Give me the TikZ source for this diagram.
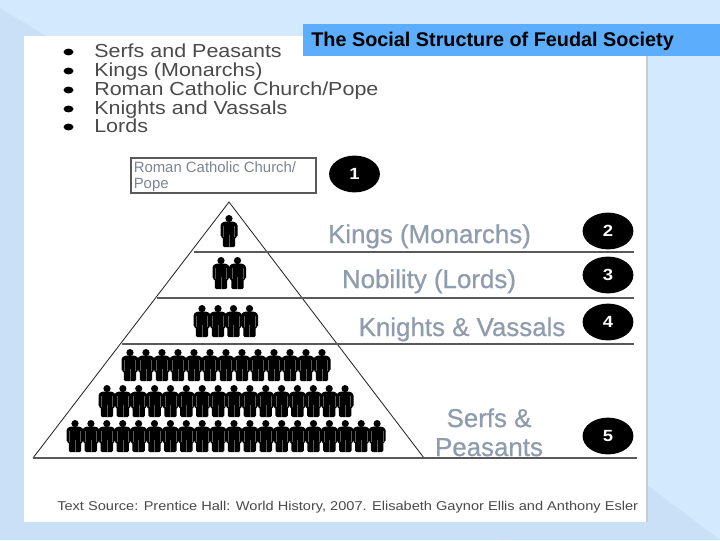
\documentclass[tikz,border=0pt]{standalone}
\usepackage{fontspec}
\usepackage{xcolor}
\setmainfont{Liberation Sans}
\newfontfamily\wideface[FakeStretch=1.14]{Liberation Sans}
\newfontfamily\tierface[FakeBold=0.7]{Liberation Sans}
\usetikzlibrary{positioning,shapes.geometric}
\definecolor{slideBg}{HTML}{D3E9FD}
\definecolor{slideDark}{HTML}{C9E0F6}
\definecolor{titleBg}{HTML}{5CAEFC}
\definecolor{tierGrey}{HTML}{8F9CAD}
\definecolor{listGrey}{HTML}{4A4A4A}

\begin{document}
\begin{tikzpicture}[
          x=0.025cm, y=-0.025cm,
          listLbl/.style={font=\wideface\fontsize{13.4}{15}\selectfont, text=listGrey, anchor=base west, inner sep=0pt},
          tierLbl/.style={font=\tierface\fontsize{18.4}{20.6}\selectfont, text=tierGrey, align=center, inner sep=0pt, anchor=base},
          numDot/.style={draw=none, fill=black, ellipse, minimum width=1.27cm, minimum height=0.92cm, inner sep=0pt, text=white, font=\wideface\fontsize{11.5}{14}\selectfont\bfseries},
          tierLine/.style={draw=black!65, line width=0.8pt},
          edgeLine/.style={draw=black!85, line width=0.6pt},
          pics/person/.style={code={
              \fill[black] (0,3.6) circle (3.6);
              \fill[black, rounded corners=1pt] (-8.5,22) -- (-8.5,9) -- (-5,6.5) -- (5,6.5) -- (8.5,9) -- (8.5,22) -- (6.2,22) -- (6.2,32) -- (-6.2,32) -- (-6.2,22) -- cycle;
              \draw[black!65, line width=0.25pt] (-5.6,11) -- (-5.6,22) (5.6,11) -- (5.6,22) (0,20) -- (0,32);
          }}
      ]
        \useasboundingbox (0,0) rectangle (720,540);
        % background and slide
        \fill[slideBg] (0,0) rectangle (720,540);
        \fill[slideDark] (0,8) -- (46,36) -- (24,36) -- (24,522) -- (647,522) -- (720,540) -- (0,540) -- cycle;
        \fill[slideDark] (647,485) -- (720,540) -- (500,540) -- (530,522) -- cycle;
        \fill[white] (24,36) rectangle (647,522);
        \draw[black!20, line width=0.8pt] (647,56) -- (647,522);
        \node[fill=titleBg, minimum width=10.425cm, minimum height=0.8cm, inner sep=0pt] (titleBar) at (511.5,40) {};
        \node[font=\fontsize{14.1}{17}\selectfont\bfseries, inner sep=0pt, anchor=base west] (titleTxt) at (311,46) {The Social Structure of Feudal Society};

        % list at the top
        \foreach \y/\txt/\nm in {57/Serfs and Peasants/a, 76/Kings (Monarchs)/b, 95/Roman Catholic Church\slash Pope/c, 114/Knights and Vassals/d, 132/Lords/e} {
          \node[fill=black, ellipse, minimum width=0.25cm, minimum height=0.17cm, inner sep=0pt] (dot\nm) at (68.5,\y-5) {};
          \node[listLbl] (item\nm) at (94,\y) {\txt};
        }

        % pyramid
        \coordinate (apex) at (229,202);
        \coordinate (baseL) at (33,458);
        \coordinate (baseR) at (424,458);
        \draw[edgeLine] (baseL) -- (apex) -- (baseR);
        \foreach \y/\xa/\xb/\nm in {252/194/634/two, 298/157/634/three, 344/122/634/four, 458/33/637/five} {
          \coordinate (left\nm) at (\xa,\y);
          \coordinate (right\nm) at (\xb,\y);
          \draw[tierLine] (left\nm) -- (right\nm);
        }

        % people, row by row
        \pic at (229,215) {person};
        \foreach \x in {221,237.5} \pic at (\x,257) {person};
        \foreach \x in {202,218,233.5,249.5} \pic at (\x,305) {person};
        \foreach \i in {0,...,12} \pic at (130+\i*16,349) {person};
        \foreach \i in {0,...,15} \pic at (107+\i*15.87,385) {person};
        \foreach \i in {0,...,19} \pic at (75+\i*15.9,420) {person};

        % labels
        \node[draw=black!65, line width=1.2pt, minimum width=4.625cm, minimum height=0.875cm, inner sep=0pt] (popeBox) at (223.5,175.5) {};
        \node[font=\fontsize{10.6}{12}\selectfont, text=tierGrey!85!black, align=left, inner sep=0pt, anchor=north west] (popeTxt) at (133.5,161) {Roman Catholic Church/\\Pope};
        \node[tierLbl] (kings) at (429.5,243) {Kings (Monarchs)};
        \node[tierLbl] (nobles) at (429,288) {Nobility (Lords)};
        \node[tierLbl] (knights) at (462,336) {Knights \& Vassals};
        \node[tierLbl] (serfs) at (489,456) {Serfs \&\\Peasants};
        \node[numDot] (numA) at (354.5,174) {1};
        \node[numDot] (numB) at (608,231) {2};
        \node[numDot] (numC) at (608,275) {3};
        \node[numDot] (numD) at (608,322) {4};
        \node[numDot] (numE) at (608,436) {5};
        \node[font=\wideface\fontsize{9.1}{10}\selectfont, text=listGrey, inner sep=0pt, anchor=base west] (source) at (57,510) {Text Source: Prentice Hall: World History, 2007. Elisabeth Gaynor Ellis and Anthony Esler};
      \end{tikzpicture}
\end{document}
